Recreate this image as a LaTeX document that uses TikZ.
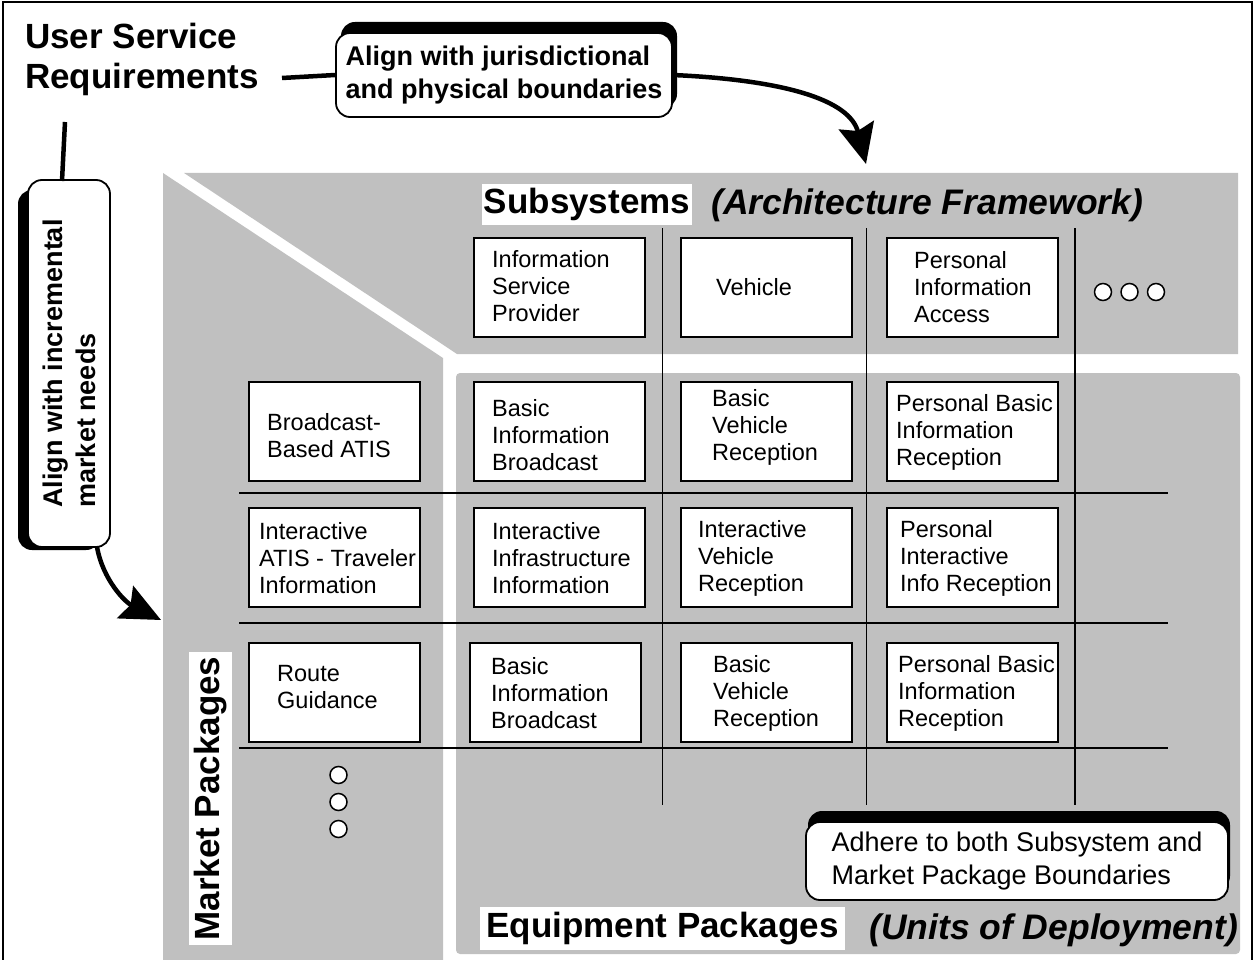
\documentclass[tikz,border=0pt]{standalone}
\usepackage{fontspec}
\setmainfont{Liberation Sans}
\usetikzlibrary{arrows.meta}
\definecolor{bandgray}{RGB}{192,192,192}
\tikzset{
  cell/.style={draw=black, line width=1.8pt, fill=white, minimum width=171pt, minimum height=99pt, anchor=north west, inner sep=0pt},
  celltext/.style={anchor=west, align=left, inner sep=0pt, font=\fontsize{23.5}{27}\selectfont},
  bigtitle/.style={inner sep=0pt, font=\fontsize{35}{40}\selectfont\bfseries},
  whitelabel/.style={bigtitle, fill=white},
  italtitle/.style={inner sep=0pt, anchor=west, font=\fontsize{35.5}{40}\selectfont\bfseries\itshape},
  scrollbox/.style={draw=black, line width=1.8pt, fill=white, rounded corners=14pt, inner sep=0pt, align=left},
  shadowfill/.style={fill=black, rounded corners=14pt},
  thickline/.style={line width=4.5pt},
  bigarrow/.style={line width=4.5pt, -{Stealth[length=40pt,width=36pt,inset=6pt]}},
  gridline/.style={line width=1.5pt},
  dot/.style={draw=black, fill=white, line width=1.5pt}
}
\begin{document}
\begin{tikzpicture}[x=1pt,y=-1pt]
\useasboundingbox (0,0) rectangle (1255,960);
% outer frame
\draw[line width=2.5pt] (3,2) rectangle (1252,975);

% gray regions
\fill[bandgray] (184,173) -- (1238,173) -- (1238,354) -- (457,354) -- cycle;
\fill[bandgray] (163,173) -- (443,358) -- (443,962) -- (163,962) -- cycle;
\fill[bandgray, rounded corners=4pt] (456,373) rectangle (1240,954);

% grid lines
\foreach \gx in {662.5,866.5,1075} \draw[gridline] (\gx,228) -- (\gx,805);
\foreach \gy in {493,623,748} \draw[gridline] (239,\gy) -- (1168,\gy);

% subsystem boxes
\node[cell] (s1) at (473,237) {};
\node[cell] (s2) at (680,237) {};
\node[cell] (s3) at (886,237) {};
\node[celltext] (s1t) at (492,286) {Information\\Service\\Provider};
\node[celltext] (s2t) at (716,287) {Vehicle};
\node[celltext] (s3t) at (914,287) {Personal\\Information\\Access};

% row 1
\node[cell] (m1) at (248,381) {};
\node[cell] (e11) at (473,381) {};
\node[cell] (e12) at (680,381) {};
\node[cell] (e13) at (886,381) {};
\node[celltext] (m1t) at (267,436) {Broadcast-\\Based ATIS};
\node[celltext] (e11t) at (492,435) {Basic\\Information\\Broadcast};
\node[celltext] (e12t) at (712,427) {Basic\\Vehicle\\Reception};
\node[celltext] (e13t) at (896,432) {Personal Basic\\Information\\Reception};

% row 2
\node[cell] (m2) at (248,507) {};
\node[cell] (e21) at (473,507) {};
\node[cell] (e22) at (680,507) {};
\node[cell] (e23) at (886,507) {};
\node[celltext] (m2t) at (259,558) {Interactive\\ATIS - Traveler\\Information};
\node[celltext] (e21t) at (492,558) {Interactive\\Infrastructure\\Information};
\node[celltext] (e22t) at (698,558) {Interactive\\Vehicle\\Reception};
\node[celltext] (e23t) at (900,558) {Personal\\Interactive\\Info Reception};

% row 3
\node[cell] (m3) at (248,642) {};
\node[cell] (e31) at (469,642) {};
\node[cell] (e32) at (680,642) {};
\node[cell] (e33) at (886,642) {};
\node[celltext] (m3t) at (277,687) {Route\\Guidance};
\node[celltext] (e31t) at (491,693) {Basic\\Information\\Broadcast};
\node[celltext] (e32t) at (713,693) {Basic\\Vehicle\\Reception};
\node[celltext] (e33t) at (898,693) {Personal Basic\\Information\\Reception};

% continuation dots
\foreach \dx in {1103,1129.5,1156} \draw[dot] (\dx,292) circle (8.5pt);
\foreach \dy in {775,802,829} \draw[dot] (338.5,\dy) circle (8.5pt);

% titles
\node[bigtitle, anchor=west, align=left] (usr) at (25,59) {User Service\\Requirements};
\node[whitelabel, minimum width=210pt, minimum height=41pt] (sub) at (587,204.5) {Subsystems};
\node[italtitle] (arch) at (711,205) {(Architecture Framework)};
\node[whitelabel, minimum width=365pt, minimum height=43pt] (eqp) at (662.5,928.5) {Equipment Packages};
\node[italtitle] (units) at (869,930) {(Units of Deployment)};
\node[whitelabel, rotate=90, minimum width=293pt, minimum height=43pt] (mkt) at (210.5,798.5) {Market Packages};

% scrolls
\fill[shadowfill] (341,22) rectangle (677,108);
\node[scrollbox, minimum width=336pt, minimum height=84pt, font=\fontsize{27}{33}\selectfont\bfseries] (js) at (504,75) {Align with jurisdictional\\and physical boundaries};

\fill[shadowfill] (18,190) rectangle (100,550);
\node[scrollbox, rotate=90, minimum width=367pt, minimum height=82pt, font=\fontsize{27}{33}\selectfont\bfseries] (ls) at (69,363.5) {Align with incremental\\market needs};

\fill[shadowfill] (808,811) rectangle (1230,890);
\node[scrollbox, minimum width=422pt, minimum height=78pt, font=\fontsize{27}{33}\selectfont] (ad) at (1017,861) {Adhere to both Subsystem and\\Market Package Boundaries};

% connectors
\coordinate (usrEnd) at (282,78);
\coordinate (tipTop) at (866,164);
\coordinate (lsTopEnd) at (65,122);
\coordinate (lsTop) at (62,181);
\coordinate (lsBottom) at (97,547);
\coordinate (tipLeft) at (161,620);
\draw[thickline] (usrEnd) -- (js.west);
\draw[bigarrow] (js.east) .. controls (785,80) and (850,100) .. (tipTop);
\draw[thickline] (lsTopEnd) -- (lsTop);
\draw[bigarrow] (lsBottom) .. controls (103,580) and (125,602) .. (tipLeft);
\end{tikzpicture}
\end{document}
